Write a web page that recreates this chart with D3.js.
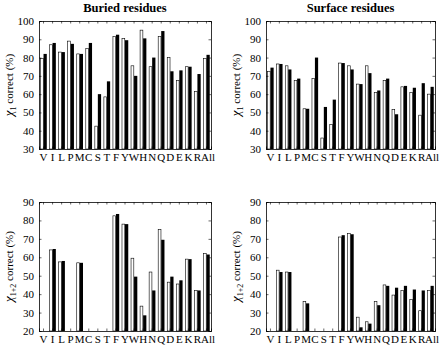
<!DOCTYPE html>
<html>
<head>
<meta charset="utf-8">
<script src="https://d3js.org/d3.v7.min.js"></script>
<style>
  body { margin: 0; background: #fff; }
  svg text { font-family: "Liberation Serif", "DejaVu Serif", serif; fill: #000; }
</style>
</head>
<body>
<svg id="chart"></svg>
<script>
// residue categories along the x axis
const residues = ['V', 'I', 'L', 'P', 'M', 'C', 'S', 'T', 'F', 'Y', 'W', 'H', 'N', 'Q', 'D', 'E', 'K', 'R', 'All'];

// chi1, buried (white bars / black bars)
const buriedChi1White = [79.5, 87, 83, 89, 82, 85, 42.5, 58.5, 91.5, 90.5, 75.5, 95, 75, 91.5, 80, 67.5, 75, 61.5, 79.5];
const buriedChi1Black = [82, 88, 83, 87.5, 82, 88, 60, 67, 92.5, 89.5, 70, 90.5, 80, 94.5, 72.5, 73, 75, 71, 81.5];

// chi1, surface
const surfaceChi1White = [72.5, 76.5, 75.5, 67.5, 52, 68.5, 36, 43.5, 77, 75.5, 65.5, 75.5, 61, 67.5, 51.5, 64, 61, 48.5, 60];
const surfaceChi1Black = [74.5, 76.5, 73.5, 68.5, 52, 80, 53, 57, 77, 73.5, 65.5, 71.5, 62, 68.5, 49, 64.5, 63.5, 66, 64];

// chi1+2, buried (null = no bar)
const buriedChi12White = [null, 64, 57.5, null, 57, null, null, null, 82.5, 78, 59.5, 33.5, 52, 75, 46.5, 45.5, 59, 42, 62];
const buriedChi12Black = [null, 64.5, 58, null, 57, null, null, null, 83.5, 78, 49.5, 28.5, 42, 69.5, 49.5, 47.5, 59, 42, 61.5];

// chi1+2, surface
const surfaceChi12White = [null, 53, 52, null, 36, null, null, null, 71, 73, 27.5, 25, 36, 45, 39.5, 42, 37, 31, 42];
const surfaceChi12Black = [null, 52, 52, null, 35, null, null, null, 72, 72.5, 22, 24, 34, 44.5, 43.5, 44.5, 42.5, 42, 44.5];

const chi1Ticks = [30, 40, 50, 60, 70, 80, 90, 100];
const chi12Ticks = [20, 30, 40, 50, 60, 70, 80, 90];

const width = 440, height = 348;
const svg = d3.select('#chart').attr('width', width).attr('height', height);
const serif = 'Liberation Serif';

function drawPanel(p) {
  const x = d3.scaleBand().domain(residues).range([p.left, p.right]);
  const y = d3.scaleLinear().domain([p.ticks[0], p.ticks[p.ticks.length - 1]]).range([p.bottom, p.top]);
  const g = svg.append('g');
  const bw = x.bandwidth() * 0.36;

  if (p.title) {
    g.append('text')
      .attr('x', (p.left + p.right) / 2).attr('y', p.top - 9)
      .attr('text-anchor', 'middle')
      .attr('font-family', serif)
      .style('font-weight', 'bold').style('font-size', '12.5px')
      .text(p.title);
  }

  // bars
  const rows = residues.map((r, i) => ({ r, w: p.white[i], b: p.black[i] }));
  g.selectAll('.bw').data(rows.filter(d => d.w != null)).enter().append('rect')
    .attr('x', d => x(d.r) + x.bandwidth() / 2 - bw + 0.25)
    .attr('width', bw - 0.5)
    .attr('y', d => y(d.w))
    .attr('height', d => y.range()[0] - y(d.w))
    .attr('fill', '#fff').attr('stroke', '#000').attr('stroke-width', 0.6);
  g.selectAll('.bb').data(rows.filter(d => d.b != null)).enter().append('rect')
    .attr('x', d => x(d.r) + x.bandwidth() / 2)
    .attr('width', bw)
    .attr('y', d => y(d.b))
    .attr('height', d => y.range()[0] - y(d.b))
    .attr('fill', '#000');

  // axes (ticks inward on all four sides)
  const tl = 2.5;
  g.append('g').attr('transform', `translate(${p.left},0)`)
    .call(d3.axisLeft(y).tickValues(p.ticks).tickSize(-tl).tickPadding(5))
    .attr('font-family', serif).attr('font-size', 11);
  g.append('g').attr('transform', `translate(${p.right},0)`)
    .call(d3.axisRight(y).tickValues(p.ticks).tickSize(-tl).tickFormat(''));
  g.append('g').attr('transform', `translate(0,${p.bottom})`)
    .call(d3.axisBottom(x).tickSize(-tl).tickPadding(4))
    .attr('font-family', serif).attr('font-size', 11)
    .call(a => a.selectAll('.tick').filter(d => d === 'All').select('text').attr('dx', 1.5));
  g.append('g').attr('transform', `translate(0,${p.top})`)
    .call(d3.axisTop(x).tickSize(-tl).tickFormat(''));
  g.selectAll('.domain').attr('stroke', '#000').attr('stroke-width', 0.8);
  g.selectAll('.tick line').attr('stroke', '#000').attr('stroke-width', 0.6);

  // y label
  const lab = g.append('text')
    .attr('transform', `translate(${p.left - 26},${(p.top + p.bottom) / 2}) rotate(-90)`)
    .attr('text-anchor', 'middle').attr('font-family', serif).style('font-size', '11px');
  lab.append('tspan').style('font-style', 'italic').style('font-size', '13px').text('χ');
  lab.append('tspan').attr('baseline-shift', '-3').style('font-size', '8px').text(p.sub);
  lab.append('tspan').text(' correct (%)');
}

drawPanel({ title: 'Buried residues', left: 39, right: 211, top: 21, bottom: 149, ticks: chi1Ticks,
  white: buriedChi1White, black: buriedChi1Black, sub: '1' });
drawPanel({ title: 'Surface residues', left: 266, right: 435, top: 21, bottom: 149, ticks: chi1Ticks,
  white: surfaceChi1White, black: surfaceChi1Black, sub: '1' });
drawPanel({ left: 39, right: 211, top: 202, bottom: 331, ticks: chi12Ticks,
  white: buriedChi12White, black: buriedChi12Black, sub: '1+2' });
drawPanel({ left: 266, right: 435, top: 202, bottom: 331, ticks: chi12Ticks,
  white: surfaceChi12White, black: surfaceChi12Black, sub: '1+2' });
</script>
</body>
</html>
